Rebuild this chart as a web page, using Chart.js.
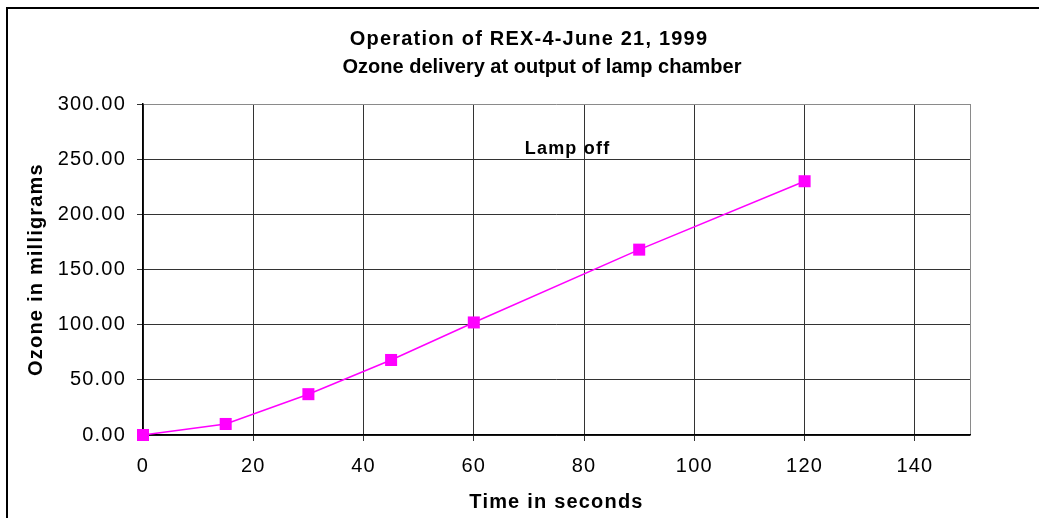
<!DOCTYPE html>
<html>
<head>
<meta charset="utf-8">
<script src="https://cdn.jsdelivr.net/npm/chart.js@4.4.1/dist/chart.umd.min.js"></script>
<style>
  html, body { margin: 0; padding: 0; background: #fff; }
  #wrap { width: 1039px; height: 518px; position: relative; }
</style>
</head>
<body>
<div id="wrap"><canvas id="graficaOzono"></canvas></div>
<script>
// Datos
const segundos = [0, 15, 30, 45, 60, 90, 120];
const ozonoMg = [0, 10, 37, 68, 102, 168, 230];
const titulo = ['Operation of REX-4-June 21, 1999', 'Ozone delivery at output of lamp chamber'];
const nota = { texto: 'Lamp off', x: 77, y: 259 };

const fuente = '"Liberation Sans", Arial, sans-serif';

// Marco, título y nota dibujados sobre el canvas
const extras = {
    id: 'extras',
    beforeDraw(chart) {
        const c = chart.ctx;
        c.save();
        c.strokeStyle = '#000';
        c.lineWidth = 2;
        c.strokeRect(7, 8, 1060, 540);
        c.restore();
        // texto algo más espaciado, como en el original
        c.letterSpacing = '1.2px';
    },
    afterDraw(chart) {
        const c = chart.ctx;
        c.save();
        c.fillStyle = '#000';
        c.textAlign = 'center';
        c.textBaseline = 'middle';
        c.font = 'bold 20px ' + fuente;
        c.letterSpacing = '1.2px';
        c.fillText(titulo[0], 529, 39);
        c.letterSpacing = '0px';
        c.fillText(titulo[1], 542, 67);
        c.letterSpacing = '1.2px';
        c.font = 'bold 18px ' + fuente;
        c.fillText(nota.texto, chart.scales.x.getPixelForValue(nota.x), chart.scales.y.getPixelForValue(nota.y));
        c.restore();
    }
};

const ctxOzono = document.getElementById('graficaOzono').getContext('2d');
new Chart(ctxOzono, {
    type: 'line',
    data: {
        datasets: [{
            label: 'Ozone',
            data: segundos.map((s, i) => ({ x: s, y: ozonoMg[i] })),
            borderColor: '#ff00ff',
            backgroundColor: '#ff00ff',
            borderWidth: 1.5,
            pointStyle: 'rect',
            pointRadius: 8.5,
            pointHoverRadius: 8.5,
            pointBorderWidth: 0,
            tension: 0,
            clip: false
        }]
    },
    options: {
        responsive: true,
        maintainAspectRatio: false,
        animation: false,
        layout: { padding: { top: 104, right: 69, left: 0, bottom: 0 } },
        plugins: {
            legend: { display: false },
            tooltip: { enabled: false }
        },
        scales: {
            x: {
                type: 'linear',
                min: 0,
                max: 150,
                afterFit: (s) => { s.height = 83; },
                ticks: {
                    stepSize: 20,
                    padding: 13,
                    color: '#000',
                    font: { family: fuente, size: 20 },
                    callback: (v) => (v === 150 ? '' : v)
                },
                grid: {
                    color: (ctx) => (ctx.tick && ctx.tick.value === 150 ? '#8a8a8a' : '#333'),
                    tickColor: (ctx) => (ctx.tick && ctx.tick.value === 150 ? 'transparent' : '#333'),
                    tickLength: 6,
                    lineWidth: 1
                },
                border: { color: '#000', width: 1.5 },
                title: {
                    display: true,
                    text: 'Time in seconds',
                    color: '#000',
                    padding: { top: 5 },
                    font: { family: fuente, size: 20, weight: 'bold' }
                }
            },
            y: {
                min: 0,
                max: 300,
                afterFit: (s) => { s.width = 143; },
                ticks: {
                    stepSize: 50,
                    padding: 11,
                    color: '#000',
                    font: { family: fuente, size: 20 },
                    callback: (v) => v.toFixed(2)
                },
                grid: {
                    color: (ctx) => (ctx.tick && ctx.tick.value === 300 ? '#8a8a8a' : '#333'),
                    tickColor: '#333',
                    tickLength: 6,
                    lineWidth: 1
                },
                border: { color: '#000', width: 1.5 },
                title: {
                    display: true,
                    text: 'Ozone in milligrams',
                    color: '#000',
                    padding: { top: 24 },
                    font: { family: fuente, size: 20, weight: 'bold' }
                }
            }
        }
    },
    plugins: [extras]
});
</script>
</body>
</html>
